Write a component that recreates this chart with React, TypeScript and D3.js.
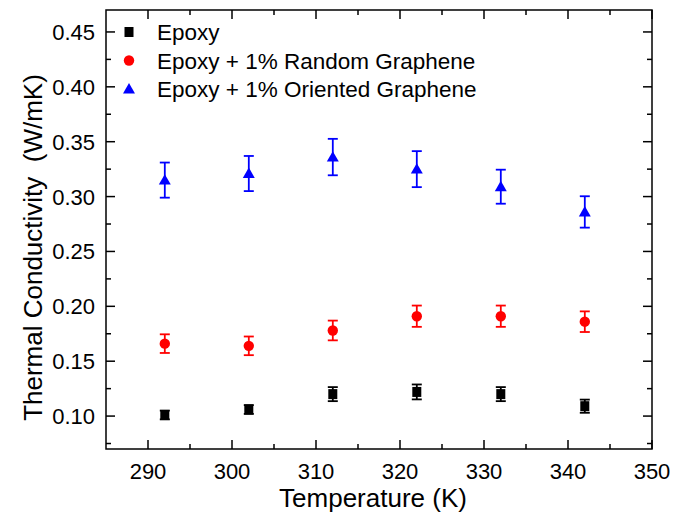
import React from "react";
import * as d3 from "d3";

const temps = [292, 302, 312, 322, 332, 342];
const epoxy = [0.101, 0.106, 0.12, 0.122, 0.12, 0.109];
const epoxyErr = [0.004, 0.004, 0.0064, 0.0068, 0.0064, 0.006];
const randomG = [0.166, 0.164, 0.178, 0.191, 0.191, 0.186];
const randomErr = [0.0085, 0.0085, 0.009, 0.0097, 0.0097, 0.0094];
const oriented = [0.315, 0.321, 0.336, 0.325, 0.309, 0.286];
const orientedErr = [0.016, 0.016, 0.0166, 0.0164, 0.0155, 0.0143];
const seriesNames = ["Epoxy", "Epoxy + 1% Random Graphene", "Epoxy + 1% Oriented Graphene"];
const xTicks = [290, 300, 310, 320, 330, 340, 350];
const xMinor = [295, 305, 315, 325, 335, 345];
const yTicks = [0.1, 0.15, 0.2, 0.25, 0.3, 0.35, 0.4, 0.45];
const yMinor = [0.075, 0.125, 0.175, 0.225, 0.275, 0.325, 0.375, 0.425];

const W = 673, H = 517;
const L = 106, R = 652, T = 10, B = 449;
const FONT = "'Liberation Sans', Arial, sans-serif";

export default function App() {
  const x = d3.scaleLinear().domain([285, 350]).range([L, R]);
  const y = d3.scaleLinear().domain([0.07, 0.47]).range([B, T]);
  const series = [
    { name: seriesNames[0], vals: epoxy, errs: epoxyErr, color: "#000000", shape: "square" },
    { name: seriesNames[1], vals: randomG, errs: randomErr, color: "#ff0000", shape: "circle" },
    { name: seriesNames[2], vals: oriented, errs: orientedErr, color: "#0000ff", shape: "triangle" },
  ];
  const marker = (shape: string, cx: number, cy: number, color: string, key?: any) => {
    if (shape === "square") return <rect key={key} x={cx - 4.5} y={cy - 5} width={9} height={10} fill={color} />;
    if (shape === "circle") return <circle key={key} cx={cx} cy={cy} r={5.2} fill={color} />;
    const sym = d3.symbol().type(d3.symbolTriangle).size(62)();
    return <path key={key} d={sym as string} transform={`translate(${cx},${cy + 1})`} fill={color} />;
  };
  const fmt = d3.format(".2f");
  return (
    <svg width={W} height={H} style={{ position: "absolute", left: 0, top: 0, background: "#fff" }} fontFamily={FONT}>
      <rect x={0} y={0} width={W} height={H} fill="#fff" />
      {xTicks.map((t) => (
        <g key={"xt" + t}>
          <line x1={x(t)} x2={x(t)} y1={B} y2={B - 9} stroke="#000" strokeWidth={1.5} />
          <line x1={x(t)} x2={x(t)} y1={T} y2={T + 9} stroke="#000" strokeWidth={1.5} />
          <text x={x(t)} y={479} textAnchor="middle" fontSize={22}>{t}</text>
        </g>
      ))}
      {xMinor.map((t) => (
        <g key={"xm" + t}>
          <line x1={x(t)} x2={x(t)} y1={B} y2={B - 5} stroke="#000" strokeWidth={1.5} />
          <line x1={x(t)} x2={x(t)} y1={T} y2={T + 5} stroke="#000" strokeWidth={1.5} />
        </g>
      ))}
      {yTicks.map((t) => (
        <g key={"yt" + t}>
          <line x1={L} x2={L + 9} y1={y(t)} y2={y(t)} stroke="#000" strokeWidth={1.5} />
          <line x1={R} x2={R - 9} y1={y(t)} y2={y(t)} stroke="#000" strokeWidth={1.5} />
          <text x={95} y={y(t) + 8} textAnchor="end" fontSize={22}>{fmt(t)}</text>
        </g>
      ))}
      {yMinor.map((t) => (
        <g key={"ym" + t}>
          <line x1={L} x2={L + 5} y1={y(t)} y2={y(t)} stroke="#000" strokeWidth={1.5} />
          <line x1={R} x2={R - 5} y1={y(t)} y2={y(t)} stroke="#000" strokeWidth={1.5} />
        </g>
      ))}
      <rect x={L} y={T} width={R - L} height={B - T} fill="none" stroke="#000" strokeWidth={1.5} />
      {series.map((s, si) => (
        <g key={"s" + si}>
          {temps.map((t, i) => {
            const cx = x(t);
            const y1 = y(s.vals[i] + s.errs[i]);
            const y2 = y(s.vals[i] - s.errs[i]);
            return (
              <g key={i} stroke={s.color} strokeWidth={1.8}>
                <line x1={cx} x2={cx} y1={y1} y2={y2} />
                <line x1={cx - 5} x2={cx + 5} y1={y1} y2={y1} />
                <line x1={cx - 5} x2={cx + 5} y1={y2} y2={y2} />
              </g>
            );
          })}
          {temps.map((t, i) => marker(s.shape, x(t), y(s.vals[i]), s.color, i))}
        </g>
      ))}
      {series.map((s, si) => (
        <g key={"lg" + si}>
          {marker(s.shape, 129, 32 + si * 28.5, s.color)}
          <text x={157} y={32 + si * 28.5 + 8} fontSize={22.5}>{s.name}</text>
        </g>
      ))}
      <text x={373} y={507} textAnchor="middle" fontSize={26}>Temperature (K)</text>
      <text transform={`translate(42,${(T + B) / 2 + 18}) rotate(-90)`} textAnchor="middle" fontSize={26} xmlSpace="preserve">
        Thermal Conductivity  (W/mK)
      </text>
    </svg>
  );
}
